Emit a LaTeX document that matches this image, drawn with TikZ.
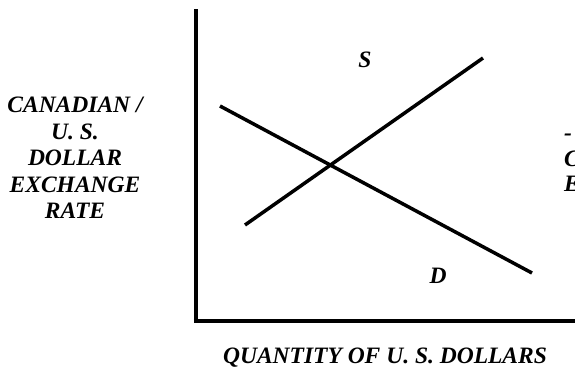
\documentclass[tikz,border=0pt]{standalone}
\usepackage{fontspec}
\setmainfont{Liberation Serif}
\begin{document}
\begin{tikzpicture}[x=1pt,y=-1pt,
  axisline/.style={line width=4pt},
  curveline/.style={line width=3.5pt},
  lbl/.style={font=\fontsize{23.5}{26.5}\selectfont\bfseries\itshape, inner sep=0pt, align=center}]
\clip (0,0) rectangle (575,386);
\fill[white] (0,0) rectangle (575,386);
% axes
\coordinate (ytop) at (195.8,9);
\coordinate (origin) at (195.8,323);
\coordinate (xend) at (585,321);
\draw[axisline] (ytop) -- (origin);
\draw[axisline] (193.8,321) -- (xend);
% supply
\coordinate (s1) at (245,225);
\coordinate (s2) at (483,58);
\draw[curveline] (s1) -- (s2);
% demand
\coordinate (d1) at (220,106);
\coordinate (d2) at (532,273);
\draw[curveline] (d1) -- (d2);
% labels
\node[lbl] (slab) at (365,60) {S};
\node[lbl] (dlab) at (438,276) {D};
\node[lbl] (ylab) at (75,158) {CANADIAN /\\U. S.\\DOLLAR\\EXCHANGE\\RATE};
\node[lbl] (xlab) at (385,358) {QUANTITY OF U. S. DOLLARS};
\node[lbl, align=left, anchor=west, font=\fontsize{23.5}{25.5}\selectfont\bfseries\itshape] (rlab) at (564,163) {-\\C\\E};
\end{tikzpicture}
\end{document}
